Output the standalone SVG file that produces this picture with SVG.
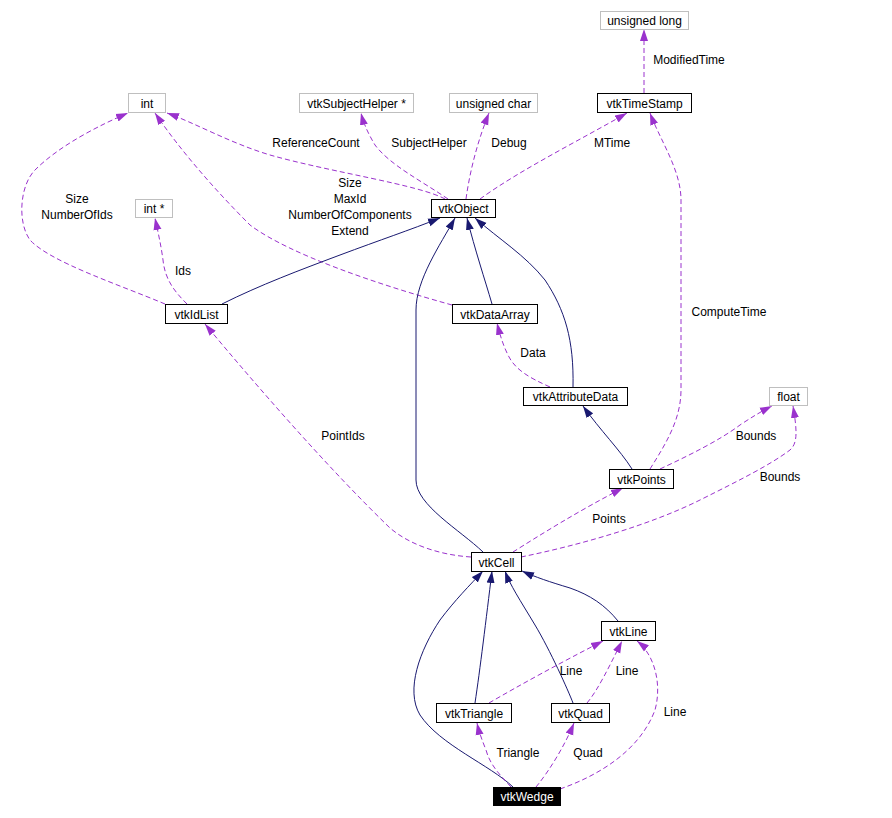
<svg xmlns="http://www.w3.org/2000/svg" width="892" height="818" viewBox="0 0 892 818">
<style>
text{font-family:"Liberation Sans",Arial,sans-serif;font-size:12px;fill:#000;text-anchor:middle}
.n rect{fill:#fff;stroke:#000;stroke-width:1}
.g rect{fill:#fff;stroke:#bfbfbf;stroke-width:1}
.w rect{fill:#000;stroke:#000}
.w text{fill:#fff}
.inh{fill:none;stroke:#191970;stroke-width:1;marker-end:url(#an)}
.mem{fill:none;stroke:#9a32cd;stroke-width:1;stroke-dasharray:5,3;marker-end:url(#ap)}
</style>
<defs>
<marker id="an" markerUnits="userSpaceOnUse" markerWidth="13" markerHeight="9" refX="12" refY="4.5" orient="auto"><path d="M0,0.5 L12,4.5 L0,8.5 z" fill="#191970"/></marker>
<marker id="ap" markerUnits="userSpaceOnUse" markerWidth="13" markerHeight="9" refX="12" refY="4.5" orient="auto"><path d="M0,0.5 L12,4.5 L0,8.5 z" fill="#9a32cd"/></marker>
</defs>
<rect width="892" height="818" fill="#fff"/>
<g id="edges">
<path class="mem" d="M445,199 C 420,185 330,172 270,155 C 230,143 195,123 167,113"/>
<path class="mem" d="M448,199 C 420,180 390,165 375,145 C 369,135 364,125 361,113"/>
<path class="mem" d="M466,199 C 470,170 478,140 489,113"/>
<path class="mem" d="M480,199 C 520,170 580,140 627,113"/>
<path class="mem" d="M644,93 L644,29"/>
<path class="mem" d="M165,304 C 120,285 50,262 30,240 C 17,222 20,185 35,170 C 60,145 100,125 128,113"/>
<path class="mem" d="M452,305 C 380,285 290,255 250,225 C 215,190 180,150 155,113"/>
<path class="mem" d="M187,304 C 175,292 165,280 163,260 C 161,245 158,232 155,218"/>
<path class="inh" d="M222,304 C 260,285 300,270 340,255 C 380,240 410,230 440,218"/>
<path class="inh" d="M492,304 C 485,280 475,250 467,218"/>
<path class="inh" d="M573,387 C 574,340 565,310 545,280 C 525,255 500,240 475,218"/>
<path class="mem" d="M550,387 C 530,378 515,370 508,355 C 503,345 500,335 497,323"/>
<path class="inh" d="M632,469 C 620,450 600,430 583,406"/>
<path class="mem" d="M650,469 C 665,445 681,420 681,390 L681,200 C 681,170 660,140 650,113"/>
<path class="mem" d="M660,469 C 690,455 720,440 740,425 C 752,417 762,411 772,406"/>
<path class="mem" d="M521,557 C 580,545 650,525 700,500 C 740,480 770,465 790,450 C 798,443 797,430 793,406"/>
<path class="mem" d="M513,552 C 540,535 580,510 623,488"/>
<path class="mem" d="M471,557 C 440,555 410,545 390,528 C 330,470 260,390 205,324"/>
<path class="inh" d="M483,552 C 460,530 416,505 416,480 L416,310 C 416,280 440,245 455,218"/>
<path class="inh" d="M618,621 C 605,605 590,595 570,588 C 550,582 535,577 522,571"/>
<path class="inh" d="M475,703 C 480,670 486,620 492,571"/>
<path class="inh" d="M573,703 C 568,690 550,650 535,625 C 520,600 510,585 505,571"/>
<path class="inh" d="M513,787 C 490,765 440,745 420,715 C 405,690 420,650 440,620 C 455,600 470,585 483,571"/>
<path class="mem" d="M489,703 C 520,685 560,663 603,641"/>
<path class="mem" d="M587,703 C 598,690 610,665 622,641"/>
<path class="mem" d="M560,789 C 600,775 640,750 655,710 C 662,685 655,655 637,641"/>
<path class="mem" d="M511,787 C 500,775 490,765 486,750 C 482,740 479,732 477,723"/>
<path class="mem" d="M536,787 C 550,770 565,745 574,723"/>
</g>
<g id="labels">
<text x="316" y="147">ReferenceCount</text>
<text x="429" y="147">SubjectHelper</text>
<text x="509" y="147">Debug</text>
<text x="612" y="147">MTime</text>
<text x="689" y="64">ModifiedTime</text>
<text x="350" y="187">Size</text>
<text x="350" y="203">MaxId</text>
<text x="350" y="219">NumberOfComponents</text>
<text x="350" y="235">Extend</text>
<text x="77" y="203">Size</text>
<text x="77" y="219">NumberOfIds</text>
<text x="183" y="275">Ids</text>
<text x="729" y="316">ComputeTime</text>
<text x="533" y="357">Data</text>
<text x="756" y="440">Bounds</text>
<text x="780" y="481">Bounds</text>
<text x="343" y="440">PointIds</text>
<text x="609" y="523">Points</text>
<text x="571" y="675">Line</text>
<text x="627" y="675">Line</text>
<text x="675" y="716">Line</text>
<text x="518" y="757">Triangle</text>
<text x="588" y="757">Quad</text>
</g>
<g id="n_int" class="g"><rect x="128.5" y="93.5" width="37" height="19"/><text x="147" y="107.5">int</text></g>
<g id="n_subjecthelper" class="g"><rect x="299.5" y="93.5" width="114" height="19"/><text x="356.5" y="107.5">vtkSubjectHelper *</text></g>
<g id="n_uchar" class="g"><rect x="449.5" y="93.5" width="88" height="19"/><text x="493.5" y="107.5">unsigned char</text></g>
<g id="n_ulong" class="g"><rect x="600.5" y="11.5" width="88" height="18"/><text x="644.5" y="25">unsigned long</text></g>
<g id="n_timestamp" class="n"><rect x="597.5" y="93.5" width="94" height="19"/><text x="644.5" y="107.5">vtkTimeStamp</text></g>
<g id="n_object" class="n"><rect x="431.5" y="199.5" width="64" height="18"/><text x="463.5" y="213">vtkObject</text></g>
<g id="n_intptr" class="g"><rect x="135.5" y="199.5" width="37" height="18"/><text x="154" y="213">int *</text></g>
<g id="n_idlist" class="n"><rect x="165.5" y="304.5" width="62" height="19"/><text x="196.5" y="318.5">vtkIdList</text></g>
<g id="n_dataarray" class="n"><rect x="452.5" y="304.5" width="85" height="19"/><text x="495" y="318.5">vtkDataArray</text></g>
<g id="n_attributedata" class="n"><rect x="523.5" y="387.5" width="104" height="18"/><text x="575.5" y="401">vtkAttributeData</text></g>
<g id="n_float" class="g"><rect x="769.5" y="387.5" width="38" height="18"/><text x="788.5" y="401">float</text></g>
<g id="n_points" class="n"><rect x="609.5" y="469.5" width="64" height="19"/><text x="641.5" y="483.5">vtkPoints</text></g>
<g id="n_cell" class="n"><rect x="471.5" y="552.5" width="50" height="19"/><text x="496.5" y="566.5">vtkCell</text></g>
<g id="n_line" class="n"><rect x="601.5" y="621.5" width="54" height="19"/><text x="628.5" y="635.5">vtkLine</text></g>
<g id="n_triangle" class="n"><rect x="436.5" y="703.5" width="75" height="19"/><text x="474" y="717.5">vtkTriangle</text></g>
<g id="n_quad" class="n"><rect x="551.5" y="703.5" width="58" height="19"/><text x="580.5" y="717.5">vtkQuad</text></g>
<g id="n_wedge" class="w"><rect x="493.5" y="787.5" width="67" height="18"/><text x="527" y="801">vtkWedge</text></g>
</svg>
